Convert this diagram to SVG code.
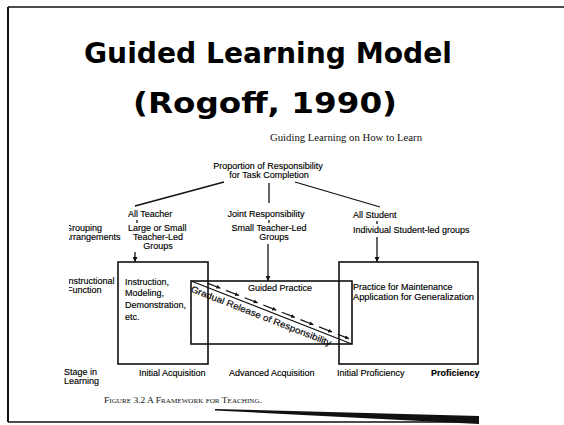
<svg xmlns="http://www.w3.org/2000/svg" width="564" height="425" viewBox="0 0 564 425">
<defs>
<style>
.t{font-family:"Liberation Sans",Arial,sans-serif;font-size:9px;fill:#000;stroke:#000;stroke-width:0.15}
.b{font-weight:bold}
.s{font-family:"Liberation Serif","Times New Roman",serif;fill:#111}
.title{font-family:"DejaVu Sans",Verdana,sans-serif;font-weight:bold;font-size:28px;fill:#000}
.ln{stroke:#111;stroke-width:1.3;fill:none}
.box{stroke:#111;stroke-width:1.6;fill:none}
</style>
<marker id="ah" viewBox="0 0 6 6" refX="6" refY="3" markerWidth="5" markerHeight="5" orient="auto" markerUnits="userSpaceOnUse">
<path d="M0,0 L6,3 L0,6 Z" fill="#111"/>
</marker>
<marker id="ahs" viewBox="0 0 6 6" refX="6" refY="3" markerWidth="4" markerHeight="4" orient="auto" markerUnits="userSpaceOnUse">
<path d="M0,0 L6,3 L0,6 Z" fill="#111"/>
</marker>
<clipPath id="leftcut"><rect x="69" y="0" width="495" height="425"/></clipPath>
</defs>
<rect width="564" height="425" fill="#fff"/>

<g id="frame">
<line x1="8" y1="7" x2="564" y2="7" stroke="#111" stroke-width="1.5"/>
<line x1="8" y1="7" x2="8" y2="422" stroke="#111" stroke-width="2"/>
<line x1="8" y1="422" x2="479" y2="422" stroke="#111" stroke-width="1.5"/>
<polygon points="215,409 479,416 479,424 215,410.5" fill="#111"/>
</g>

<g id="title">
<text class="title" x="268" y="63" text-anchor="middle" textLength="368" lengthAdjust="spacingAndGlyphs">Guided Learning Model</text>
<text class="title" x="265" y="113" text-anchor="middle" textLength="264" lengthAdjust="spacingAndGlyphs">(Rogoff, 1990)</text>
</g>

<g id="subtitle">
<text class="s" x="346" y="141" font-size="10" text-anchor="middle" textLength="152" lengthAdjust="spacingAndGlyphs">Guiding Learning on How to Learn</text>
</g>

<g id="responsibility">
<text class="t" x="268" y="169" text-anchor="middle">Proportion of Responsibility</text>
<text class="t" x="269" y="178" text-anchor="middle">for Task Completion</text>
</g>

<g id="all-teacher"><text class="t" x="128" y="217">All Teacher</text></g>
<g id="joint"><text class="t" x="266" y="217" text-anchor="middle">Joint Responsibility</text></g>
<g id="all-student"><text class="t" x="353" y="218">All Student</text></g>

<g id="grouping-label" clip-path="url(#leftcut)">
<text class="t" x="65" y="231">Grouping</text>
<text class="t" x="64" y="240">Arrangements</text>
</g>
<g id="large-small">
<text class="t" x="128" y="231">Large or Small</text>
<text class="t" x="158" y="240" text-anchor="middle">Teacher-Led</text>
<text class="t" x="158" y="249" text-anchor="middle">Groups</text>
</g>
<g id="small-teacher">
<text class="t" x="269" y="231" text-anchor="middle">Small Teacher-Led</text>
<text class="t" x="274" y="240" text-anchor="middle">Groups</text>
</g>
<g id="individual"><text class="t" x="353" y="233">Individual Student-led groups</text></g>

<g id="instr-label" clip-path="url(#leftcut)">
<text class="t" x="66" y="284">Instructional</text>
<text class="t" x="67" y="293">Function</text>
</g>

<g id="box-instruction">
<rect class="box" x="118" y="262" width="90" height="102"/>
<text class="t" x="125" y="285">Instruction,</text>
<text class="t" x="125" y="296">Modeling,</text>
<text class="t" x="125" y="308">Demonstration,</text>
<text class="t" x="125" y="320">etc.</text>
</g>

<g id="box-guided">
<rect class="box" x="191" y="281" width="161" height="63"/>
<text class="t" x="248" y="291">Guided Practice</text>
</g>

<g id="box-maintenance">
<rect class="box" x="339" y="262" width="139" height="102"/>
<text class="t" x="353" y="290">Practice for Maintenance</text>
<text class="t" x="353" y="299.5" textLength="121" lengthAdjust="spacingAndGlyphs">Application for Generalization</text>
</g>

<g id="release-band" transform="translate(191,281) rotate(21.4)">
<line x1="0" y1="0" x2="172" y2="0" stroke="#111" stroke-width="1.2"/>
<g stroke="#111" stroke-width="1.2" marker-end="url(#ahs)">
<line x1="16" y1="-4" x2="30" y2="-4"/>
<line x1="36" y1="-4" x2="50" y2="-4"/>
<line x1="56" y1="-4" x2="70" y2="-4"/>
<line x1="76" y1="-4" x2="90" y2="-4"/>
<line x1="96" y1="-4" x2="110" y2="-4"/>
<line x1="116" y1="-4" x2="130" y2="-4"/>
<line x1="136" y1="-4" x2="150" y2="-4"/>
<line x1="156" y1="-4" x2="168" y2="-4"/>
</g>
<text class="t" x="3" y="10" font-size="9.5" textLength="150" lengthAdjust="spacingAndGlyphs">Gradual Release of Responsibility</text>
</g>

<g id="connectors">
<line class="ln" x1="224" y1="182" x2="135" y2="206"/>
<line class="ln" x1="269" y1="183" x2="269" y2="203"/>
<line class="ln" x1="295" y1="182" x2="380" y2="207"/>
<line class="ln" x1="137" y1="220" x2="137" y2="223"/>
<line class="ln" x1="269" y1="220" x2="269" y2="223"/>
<line class="ln" x1="377" y1="221" x2="377" y2="224"/>
<line class="ln" x1="135" y1="252" x2="135" y2="262" stroke-width="2" marker-end="url(#ah)"/>
<line class="ln" x1="268" y1="244" x2="268" y2="281" marker-end="url(#ah)"/>
<line class="ln" x1="377" y1="237" x2="377" y2="262" marker-end="url(#ah)"/>
</g>

<g id="stage-labels">
<text class="t" x="64" y="375">Stage in</text>
<text class="t" x="64" y="384">Learning</text>
<text class="t" x="139" y="376">Initial Acquisition</text>
<text class="t" x="229" y="376">Advanced Acquisition</text>
<text class="t" x="337" y="376">Initial Proficiency</text>
<text class="t b" x="431" y="376">Proficiency</text>
</g>

<g id="caption">
<text class="s" x="104" y="403" font-size="8" font-variant="small-caps" textLength="158" lengthAdjust="spacingAndGlyphs">Figure 3.2 A Framework for Teaching.</text>
</g>
</svg>
